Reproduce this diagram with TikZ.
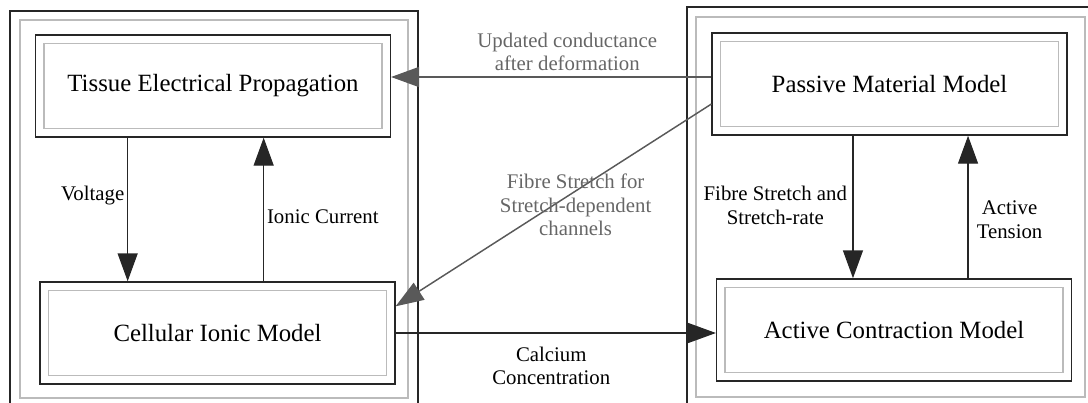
\documentclass[tikz,border=0pt]{standalone}
\usepackage{fontspec}
\setmainfont{Liberation Serif}
\usetikzlibrary{arrows.meta}

\definecolor{framegray}{HTML}{BBBBBB}
\definecolor{linkgray}{HTML}{595959}
\definecolor{textgray}{HTML}{666666}

\tikzset{
  model/.style={draw=black!85, line width=1.1pt, minimum width=266pt, minimum height=76.5pt,
    inner sep=0pt, font=\fontsize{18.6}{22}\selectfont},
  innerline/.style={draw=framegray, line width=1.1pt},
  frame/.style={draw=black!85, line width=1.1pt},
  flow/.style={draw=black!85, line width=1.1pt, -{Triangle[length=21pt, width=15pt]}},
  feedback/.style={draw=linkgray, line width=1.1pt, -{Triangle[length=21pt, width=15pt]}},
  lbl/.style={font=\fontsize{15.6}{17.6}\selectfont, align=center, inner sep=2pt},
  graylbl/.style={lbl, text=textgray}
}

\begin{document}
\begin{tikzpicture}[x=0.75pt, y=-0.75pt]
  \clip (0,0) rectangle (1088,403);

  % Outer frames
  \draw[frame] (10,11) rectangle (418,410);
  \draw[innerline] (20,20) rectangle (408,398);
  \draw[frame] (687,7) rectangle (1095,410);
  \draw[innerline] (696,17) rectangle (1085,397);

  % Model boxes
  \node[model] (tissue) at (213,86) {Tissue Electrical Propagation};
  \node[model] (cellular) at (217.5,333) {Cellular Ionic Model};
  \node[model] (passive) at (889.5,84) {Passive Material Model};
  \node[model] (active) at (894,330) {Active Contraction Model};

  \foreach \n in {tissue,cellular,passive,active}
    \draw[innerline] ([shift={(6.75pt,-6.75pt)}]\n.north west) rectangle ([shift={(-6.75pt,6.75pt)}]\n.south east);

  % Electrophysiology coupling
  \draw[flow] ([xshift=-64pt]tissue.south) -- node[lbl, left, pos=0.4] {Voltage} ([xshift=-64pt]tissue.south |- cellular.north);
  \draw[flow] ([xshift=38pt]tissue.south |- cellular.north) -- node[lbl, right, pos=0.45] {Ionic Current} ([xshift=38pt]tissue.south);

  % Mechanics coupling
  \draw[flow] ([xshift=-27.4pt]passive.south) -- node[lbl, left=2pt, pos=0.49] {Fibre Stretch and\\Stretch-rate} ([xshift=-27.4pt]passive.south |- active.north);
  \draw[flow] ([xshift=58.9pt]passive.south |- active.north) -- node[lbl, right=4pt, pos=0.41] {Active\\Tension} ([xshift=58.9pt]passive.south);

  % Cross coupling
  \draw[flow] (cellular.east) -- node[lbl, below=8pt, pos=0.486] {Calcium\\Concentration} (cellular.east -| active.west);
  \draw[feedback] ([yshift=5.25pt]passive.west) -- node[graylbl, above=2pt, pos=0.45] {Updated conductance\\after deformation} ([yshift=5.25pt]passive.west -| tissue.east);
  \draw[feedback] ([yshift=-15pt]passive.west) -- node[graylbl, pos=0.43, yshift=-10.5pt] {Fibre Stretch for\\Stretch-dependent\\channels} ([yshift=20pt]cellular.east);
\end{tikzpicture}
\end{document}
